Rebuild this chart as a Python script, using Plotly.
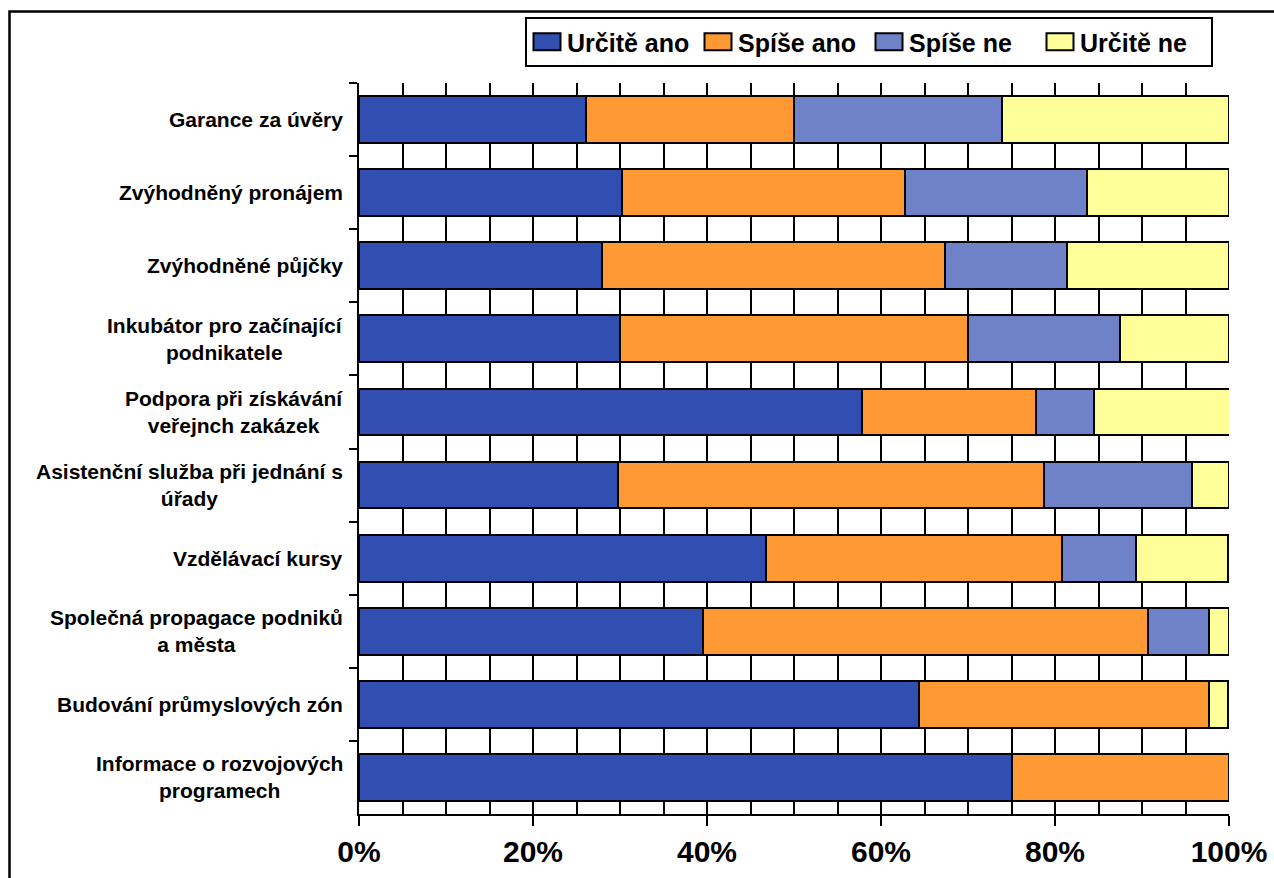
import plotly.graph_objects as go

categories = [
    "Garance za úvěry",
    "Zvýhodněný pronájem",
    "Zvýhodněné půjčky",
    "Inkubátor pro začínající<br>podnikatele",
    "Podpora při získávání<br>veřejnch zakázek",
    "Asistenční služba při jednání s<br>úřady",
    "Vzdělávací kursy",
    "Společná propagace podniků<br>a města",
    "Budování průmyslových zón",
    "Informace o rozvojových<br>programech",
]

urcite_ano = [26.1, 30.2, 27.9, 30.0, 57.8, 29.8, 46.8, 39.5, 64.4, 75.0]
spise_ano = [23.9, 32.6, 39.5, 40.0, 20.0, 48.9, 34.0, 51.2, 33.3, 25.0]
spise_ne = [23.9, 20.9, 14.0, 17.5, 6.7, 17.0, 8.5, 7.0, 0.0, 0.0]
urcite_ne = [26.1, 16.3, 18.6, 12.5, 15.6, 4.3, 10.6, 2.3, 2.2, 0.0]

series_names = ["Určitě ano", "Spíše ano", "Spíše ne", "Určitě ne"]
series_values = [urcite_ano, spise_ano, spise_ne, urcite_ne]
series_colors = ["#304FB1", "#FF9933", "#6F82C8", "#FFFF99"]

x_ticks = [0, 20, 40, 60, 80, 100]

FONT = "Liberation Sans, Arial, sans-serif"

fig = go.Figure()
for name, vals, col in zip(series_names, series_values, series_colors):
    fig.add_trace(go.Bar(
        y=categories, x=vals, name=name, orientation="h",
        marker=dict(color=col, line=dict(color="black", width=2)),
    ))

# Category labels as centered multi-line annotations
for cat in categories:
    fig.add_annotation(
        x=0, xref="paper", y=cat, yref="y", xanchor="right", xshift=-14,
        text="<b>" + cat + "</b>", showarrow=False, align="center",
        font=dict(family=FONT, size=21, color="black"),
    )

W, H = 1274, 878
L, R, T, B = 359, 45, 83, 64
pw, ph = W - L - R, H - T - B

def px_x(p):
    return (p - L) / pw

def px_y(p):
    return (H - B - p) / ph

# Outer frame around the chart
fig.add_shape(type="rect", xref="paper", yref="paper",
              x0=px_x(9.5), x1=px_x(1300), y0=px_y(900), y1=px_y(11.5),
              line=dict(color="black", width=2.5), fillcolor="rgba(0,0,0,0)")

fig.update_layout(
    width=W, height=H,
    margin=dict(l=L, r=R, t=T, b=B, pad=0),
    barmode="stack", bargap=0.36,
    plot_bgcolor="white", paper_bgcolor="white",
    font=dict(family=FONT, color="black"),
    showlegend=True,
    legend=dict(
        orientation="h", x=px_x(525), y=px_y(17), xanchor="left", yanchor="top",
        bgcolor="white", bordercolor="black", borderwidth=2,
        font=dict(family=FONT, size=25, color="black", weight="bold"),
        traceorder="normal", entrywidth=126, entrywidthmode="pixels",
        itemclick=False, itemdoubleclick=False,
    ),
    xaxis=dict(
        range=[0, 100], tickvals=x_ticks, ticktext=[f"{v}%" for v in x_ticks],
        ticks="outside", ticklen=10, tickwidth=2, tickcolor="black",
        showline=True, linecolor="black", linewidth=2,
        showgrid=False, zeroline=False, automargin=False,
        minor=dict(dtick=5, tick0=0, showgrid=True, gridcolor="black", gridwidth=2),
        tickfont=dict(family=FONT, size=30, color="black", weight="bold"),
        fixedrange=True,
    ),
    yaxis=dict(
        type="category", autorange="reversed",
        tickson="boundaries", ticks="outside", ticklen=8, tickwidth=2, tickcolor="black",
        showticklabels=False, showline=True, linecolor="black", linewidth=2,
        showgrid=False, zeroline=False, fixedrange=True, automargin=False,
    ),
)

post = """
document.body.style.margin = '0';
document.querySelectorAll('.legendpoints path').forEach(function(p){
  p.setAttribute('d','M13.5,8.5H-13.5V-8.5H13.5Z');
});
"""

fig.write_html("out.html", post_script=post, config={"displayModeBar": False})
